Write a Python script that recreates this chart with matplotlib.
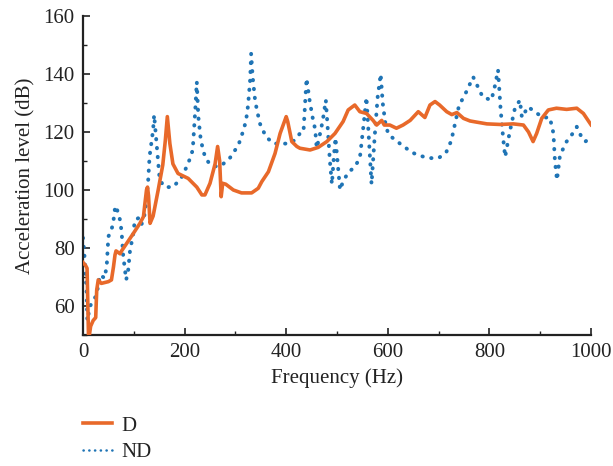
import numpy as np
import matplotlib
matplotlib.use("Agg")
import matplotlib.pyplot as plt
from matplotlib.ticker import MultipleLocator

# D curve (solid orange)
freq_d = [0, 5, 8, 11, 15, 20, 25, 27, 30, 36, 50, 56, 60, 63, 65, 73, 76, 86, 99, 112, 119,
          122, 125, 127, 129, 132, 138, 148, 157, 162, 166, 171, 177, 187, 207, 224, 234, 240,
          250, 260, 265, 269, 272, 275, 281, 296, 312, 332, 345, 352, 365, 378, 388, 400, 403,
          411, 421, 427, 447, 463, 480, 496, 512, 522, 535, 545, 558, 571, 578, 588, 593, 604,
          617, 630, 644, 660, 673, 683, 693, 702, 716, 726, 736, 749, 762, 775, 795, 821, 847,
          867, 877, 886, 893, 903, 916, 932, 952, 972, 985, 1000]
level_d = [75, 74, 73, 48, 53, 55, 56, 65.5, 69, 67.8, 68.4, 69, 73.5, 77.6, 79, 78, 79, 81.6,
           85, 88.5, 90.8, 95.5, 100, 101, 98, 88.5, 91, 100, 108.6, 117, 125.3, 116, 109,
           105.7, 104, 101, 98.3, 98.3, 102.3, 109, 115, 110, 97.7, 102.3, 102, 100, 99, 99,
           100.6, 102.9, 106.3, 112.6, 119.5, 125.3, 123.6, 116.7, 115, 114.4, 113.8, 114.7,
           116.7, 119.5, 123.6, 127.6, 129.3, 127, 126.4, 124, 122.4, 124, 122.4, 122.4, 121.3,
           122.4, 124, 127, 125, 129.3, 130.5, 129.3, 127, 126, 126.7, 124.7, 123.8, 123.4,
           122.8, 122.6, 122.8, 122.4, 120, 116.7, 119.5, 124.7, 127.6, 128.2, 127.8, 128.2,
           126.4, 122.5]

# ND curve (dotted blue)
freq_nd = [0, 3, 7, 8.5, 14, 24, 30, 33, 43, 47, 50, 53, 59, 63, 65, 73, 76, 79, 85, 89, 92.5,
           99, 102, 109, 115, 122, 125, 128, 131, 138, 140, 148, 151, 161, 177, 193, 204, 211,
           216, 218, 221, 224, 227, 232, 240, 249, 264, 276, 289, 306, 316, 321, 325, 329, 331,
           334, 339, 348, 360, 375, 391, 404, 417, 427, 434, 440, 446, 453, 457, 460, 465, 472,
           478, 486, 490, 494, 497, 501, 506, 512, 522, 535, 545, 552, 558, 562, 568, 574, 580,
           586, 590, 596, 602, 624, 647, 660, 680, 700, 715, 725, 740, 755, 768, 787, 804, 811,
           817, 822, 827, 831, 840, 850, 860, 864, 876, 893, 906, 919, 926, 929, 933, 939, 952,
           962, 972, 982, 989, 1000]
level_nd = [83.5, 77, 65.5, 55, 60, 63, 66.7, 70.7, 69.6, 74.8, 84, 85, 88, 93.8, 94.5, 89.6,
            85.6, 77.6, 69, 72.4, 79, 85, 89.6, 90.3, 88, 92, 97.7, 102.4, 111.5, 120.7, 125.9,
            109.3, 103.4, 101, 101, 104, 108, 111, 113.8, 119.5, 127.6, 137.3, 125.3, 117,
            111.5, 109, 108, 109, 111, 115.5, 120.7, 124, 129.3, 138, 147, 139, 130.5, 123,
            118.4, 116, 116, 116, 117.2, 119.5, 120, 138.5, 131, 124, 121, 114.5, 118, 124,
            131, 110, 102, 112, 118, 110, 100, 103, 106, 108, 111, 122, 132, 120, 102, 118, 132,
            140, 130, 122, 119, 116, 113, 112, 111, 111, 113, 117, 129, 134, 139, 132, 131,
            136, 141.4, 128, 118, 111.4, 120, 128, 131, 125, 128.7, 126.5, 125, 125, 119.6,
            110, 103.4, 112, 116.7, 119, 121.8, 118, 116.7, 118.4]

col_d = "#E8692A"
col_nd = "#1F74B5"
ink = "#222222"

plt.rcParams["font.family"] = ["Liberation Serif", "DejaVu Serif"]
plt.rcParams["font.size"] = 15

fig = plt.figure(figsize=(6.13, 4.66), dpi=100)
ax = fig.add_axes([83 / 613, 1 - 335 / 466, 508 / 613, 319 / 466])

ax.plot(freq_d, level_d, color=col_d, lw=2.6, label="D", zorder=3)
ax.plot(freq_nd, level_nd, color=col_nd, lw=2.8, linestyle=(0, (0.1, 2.2)),
        dash_capstyle="round", label="ND", zorder=2)

ax.set_xlim(0, 1000)
ax.set_ylim(50, 160)
ax.xaxis.set_major_locator(MultipleLocator(200))
ax.xaxis.set_minor_locator(MultipleLocator(100))
ax.yaxis.set_minor_locator(MultipleLocator(10))
ax.set_yticks([60, 80, 100, 120, 140, 160])
ax.tick_params(which="major", direction="in", length=5, width=1.2, colors=ink,
               labelcolor=ink, labelsize=15)
ax.tick_params(axis="x", which="major", pad=6)
ax.tick_params(axis="y", which="major", pad=6)
ax.tick_params(which="minor", direction="in", length=3, width=1.0, colors=ink)
for s in ["top", "right"]:
    ax.spines[s].set_visible(False)
for s in ["left", "bottom"]:
    ax.spines[s].set_linewidth(1.6)
    ax.spines[s].set_color(ink)

ax.set_xlabel("Frequency (Hz)", color=ink, labelpad=4, fontsize=15)
ax.set_ylabel("Acceleration level (dB)", color=ink, labelpad=6, fontsize=15)

leg = fig.legend(loc="upper left", bbox_to_anchor=(83 / 613, 1 - 416 / 466), frameon=False,
                 borderpad=0, borderaxespad=0, handlelength=1.4, handletextpad=0.45,
                 labelspacing=0.35, fontsize=15, labelcolor=ink)
leg.get_lines()[1].set_linewidth(1.8)

fig.savefig("out.png", dpi=100)
